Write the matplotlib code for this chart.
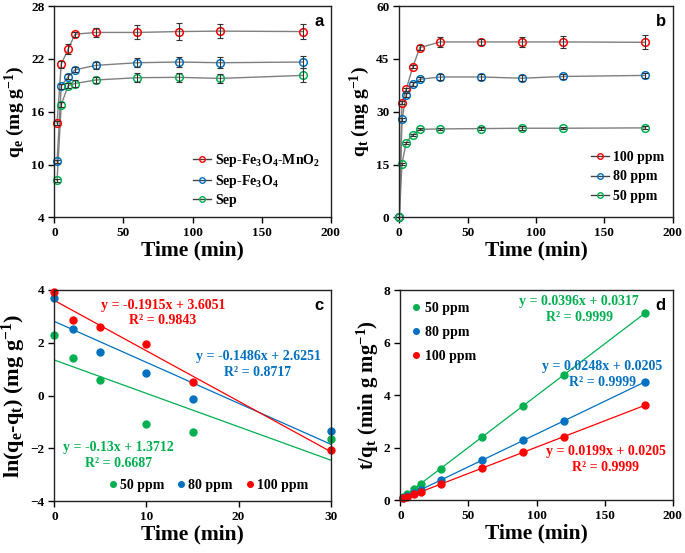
import numpy as np
import matplotlib
matplotlib.use("Agg")
import matplotlib.pyplot as plt

plt.rcParams['font.family'] = ['Liberation Serif', 'DejaVu Serif']
plt.rcParams['font.weight'] = 'bold'
plt.rcParams['axes.labelweight'] = 'bold'
plt.rcParams['mathtext.fontset'] = 'custom'
plt.rcParams['mathtext.rm'] = 'Liberation Serif:bold'
plt.rcParams['mathtext.bf'] = 'Liberation Serif:bold'
plt.rcParams['mathtext.it'] = 'Liberation Serif:bold:italic'

RED = '#FF0000'
BLUE = '#0070C0'
GREEN = '#00B050'

# ---------- Panel a data ----------
t_a = [2, 5, 10, 15, 30, 60, 90, 120, 180]
qa_mno2 = [14.7, 21.4, 23.1, 24.8, 25.0, 25.0, 25.1, 25.15, 25.1]
ea_mno2 = [0.2, 0.4, 0.6, 0.3, 0.5, 0.8, 1.0, 0.8, 0.9]
qa_fe = [10.35, 18.9, 19.97, 20.76, 21.26, 21.56, 21.64, 21.56, 21.64]
ea_fe = [0.2, 0.3, 0.3, 0.3, 0.4, 0.5, 0.6, 0.6, 0.7]
qa_sep = [8.2, 16.8, 18.95, 19.2, 19.6, 19.86, 19.9, 19.78, 20.12]
ea_sep = [0.2, 0.3, 0.3, 0.4, 0.3, 0.5, 0.5, 0.5, 0.8]
labels_a = [r'Sep-Fe$_\mathregular{3}$O$_\mathregular{4}$-MnO$_\mathregular{2}$',
            r'Sep-Fe$_\mathregular{3}$O$_\mathregular{4}$', 'Sep']

# ---------- Panel b data ----------
t_b = [0, 2, 5, 10, 15, 30, 60, 90, 120, 180]
qb_100 = [0, 32.55, 36.3, 42.8, 48.2, 49.8, 49.8, 49.8, 49.8, 49.7]
eb_100 = [0, 0.5, 0.5, 0.5, 0.8, 1.3, 0.8, 1.5, 1.8, 2.0]
qb_80 = [0, 27.8, 34.7, 37.8, 39.2, 39.85, 39.85, 39.5, 40.0, 40.3]
eb_80 = [0, 0.5, 0.5, 0.5, 0.6, 0.8, 0.8, 0.8, 0.7, 0.7]
qb_50 = [0, 15.2, 21.2, 23.5, 25.0, 25.1, 25.2, 25.3, 25.3, 25.4]
eb_50 = [0, 0.3, 0.3, 0.3, 0.3, 0.3, 0.4, 0.5, 0.3, 0.4]
labels_conc = ['100 ppm', '80 ppm', '50 ppm']

# ---------- Panel c data ----------
t_c = [0, 2, 5, 10, 15, 30]
lc_50 = [2.31, 1.42, 0.60, -1.07, -1.37, -1.66]
lc_80 = [3.68, 2.51, 1.66, 0.85, -0.12, -1.35]
lc_100 = [3.92, 2.85, 2.61, 1.96, 0.51, -2.07]
eq_c = ['y = -0.13x + 1.3712\nR² = 0.6687',
        'y = -0.1486x + 2.6251\nR² = 0.8717',
        'y = -0.1915x + 3.6051\nR² = 0.9843']

# ---------- Panel d data ----------
t_d = [2, 5, 10, 15, 30, 60, 90, 120, 180]
td_50 = [0.13, 0.24, 0.43, 0.60, 1.19, 2.41, 3.59, 4.77, 7.13]
td_80 = [0.07, 0.15, 0.26, 0.38, 0.76, 1.52, 2.29, 3.01, 4.50]
td_100 = [0.06, 0.11, 0.22, 0.31, 0.60, 1.21, 1.82, 2.41, 3.62]
eq_d = ['y = 0.0396x + 0.0317\nR² = 0.9999',
        'y = 0.0248x + 0.0205\nR² = 0.9999',
        'y = 0.0199x + 0.0205\nR² = 0.9999']

fig = plt.figure(figsize=(6.85, 5.53), dpi=100)
fig.patch.set_facecolor('white')

TICK_FS = 9.5
LAB_FS = 15.5
EQ_FS = 10


def style_axes(ax):
    for s in ax.spines.values():
        s.set_linewidth(1.0)
        s.set_color('#222222')
    ax.tick_params(direction='out', length=4, width=1, labelsize=TICK_FS, pad=3)
    for lab in ax.get_xticklabels() + ax.get_yticklabels():
        lab.set_fontweight('bold')


def panel_letter(ax, s):
    ax.text(0.975, 0.96, s, transform=ax.transAxes, ha='right', va='top',
            fontsize=12, fontweight='bold', family='Liberation Sans')


def kinetic(ax, t, q, e, color, label):
    ax.plot(t, q, color='#7f7f7f', lw=1.0, zorder=1)
    ax.errorbar(t, q, yerr=e, fmt='none', ecolor='#333333', elinewidth=0.8,
                capsize=2.2, capthick=0.8, zorder=3)
    ax.plot(t, q, ls='none', marker='o', ms=5.5, mfc='none', mec=color,
            mew=1.1, zorder=2, clip_on=False)
    ax.plot([], [], color='#444444', lw=1.0, marker='o', ms=4, mfc='none',
            mec=color, mew=1.0, label=label)


# Panel a
axa = fig.add_axes([0.0793, 0.607, 0.4035, 0.3821])
for q, e, c, l in zip([qa_mno2, qa_fe, qa_sep], [ea_mno2, ea_fe, ea_sep],
                      [RED, BLUE, GREEN], labels_a):
    kinetic(axa, t_a, q, e, c, l)
axa.set_xlim(0, 200)
axa.set_ylim(4, 28)
axa.set_xticks([0, 50, 100, 150, 200])
axa.set_yticks([4, 10, 16, 22, 28])
axa.set_xlabel('Time (min)', fontsize=LAB_FS, labelpad=1)
axa.set_ylabel(r'q$_\mathregular{e}$ (mg g$^{\mathregular{-1}}$)', fontsize=14, labelpad=3)
axa.legend(loc='lower right', bbox_to_anchor=(1.0, 0.0), frameon=False,
           fontsize=10, handlelength=1.3, handletextpad=0.3, labelspacing=0.3,
           borderaxespad=0.35)
style_axes(axa)
panel_letter(axa, 'a')

# Panel b
axb = fig.add_axes([0.5829, 0.607, 0.3991, 0.3821])
for q, e, c, l in zip([qb_100, qb_80, qb_50], [eb_100, eb_80, eb_50],
                      [RED, BLUE, GREEN], labels_conc):
    kinetic(axb, t_b, q, e, c, l)
axb.set_xlim(0, 200)
axb.set_ylim(0, 60)
axb.set_xticks([0, 50, 100, 150, 200])
axb.set_yticks([0, 15, 30, 45, 60])
axb.set_xlabel('Time (min)', fontsize=LAB_FS, labelpad=1)
axb.set_ylabel(r'q$_\mathregular{t}$ (mg g$^{\mathregular{-1}}$)', fontsize=14, labelpad=3)
axb.legend(loc='lower right', bbox_to_anchor=(1.0, 0.03), frameon=False,
           fontsize=10, handlelength=1.3, handletextpad=0.3, labelspacing=0.45,
           borderaxespad=0.2)
style_axes(axb)
panel_letter(axb, 'b')

# Panel c
axc = fig.add_axes([0.0793, 0.0940, 0.4035, 0.3816])
for y, c, l in zip([lc_50, lc_80, lc_100], [GREEN, BLUE, RED],
                   ['50 ppm', '80 ppm', '100 ppm']):
    k, b = np.polyfit(t_c, y, 1)
    xs = np.array([min(t_c), max(t_c)])
    axc.plot(xs, k * xs + b, color=c, lw=0.9, zorder=1)
    axc.plot(t_c, y, ls='none', marker='o', ms=5, color=c, label=l, zorder=2,
             clip_on=False)
axc.set_xlim(0, 30)
axc.set_ylim(-4, 4)
axc.set_xticks([0, 10, 20, 30])
axc.set_yticks([-4, -2, 0, 2, 4])
axc.set_xlabel('Time (min)', fontsize=LAB_FS, labelpad=1)
axc.set_ylabel(r'ln(q$_\mathregular{e}$-q$_\mathregular{t}$) (mg g$^{\mathregular{-1}}$)',
               fontsize=16, labelpad=2)
axc.legend(loc='lower center', bbox_to_anchor=(0.558, 0.0), ncol=3, frameon=False,
           fontsize=10, handlelength=0.6, handletextpad=0.2, columnspacing=0.9,
           markerscale=0.8, borderaxespad=0.25)
eq_pos_c = [(0.232, 0.216), (0.737, 0.647), (0.393, 0.89)]
for s, c, (x, y) in zip(eq_c, [GREEN, BLUE, RED], eq_pos_c):
    axc.text(x, y, s, transform=axc.transAxes, ha='center', va='center',
             color=c, fontsize=EQ_FS, fontweight='bold', linespacing=1.25)
style_axes(axc)
panel_letter(axc, 'c')

# Panel d
axd = fig.add_axes([0.5844, 0.0958, 0.3977, 0.3797])
for y, c, l in zip([td_50, td_80, td_100], [GREEN, BLUE, RED],
                   ['50 ppm', '80 ppm', '100 ppm']):
    k, b = np.polyfit(t_d, y, 1)
    xs = np.array([min(t_d), max(t_d)])
    axd.plot(xs, k * xs + b, color=c, lw=0.9, zorder=1)
    axd.plot(t_d, y, ls='none', marker='o', ms=5, color=c, label=l, zorder=2,
             clip_on=False)
axd.set_xlim(0, 200)
axd.set_ylim(0, 8)
axd.set_xticks([0, 50, 100, 150, 200])
axd.set_yticks([0, 2, 4, 6, 8])
axd.set_xlabel('Time (min)', fontsize=LAB_FS, labelpad=1)
axd.set_ylabel(r't/q$_\mathregular{t}$ (min g mg$^{\mathregular{-1}}$)', fontsize=15, labelpad=2)
axd.legend(loc='upper left', bbox_to_anchor=(0.0, 1.0), frameon=False,
           fontsize=10, handlelength=0.6, handletextpad=0.3, labelspacing=0.8,
           markerscale=0.8, borderaxespad=0.45)
eq_pos_d = [(0.656, 0.907), (0.742, 0.597), (0.753, 0.194)]
for s, c, (x, y) in zip(eq_d, [GREEN, BLUE, RED], eq_pos_d):
    axd.text(x, y, s, transform=axd.transAxes, ha='center', va='center',
             color=c, fontsize=EQ_FS, fontweight='bold', linespacing=1.25)
style_axes(axd)
panel_letter(axd, 'd')

fig.savefig('out.png', dpi=100, facecolor='white')
